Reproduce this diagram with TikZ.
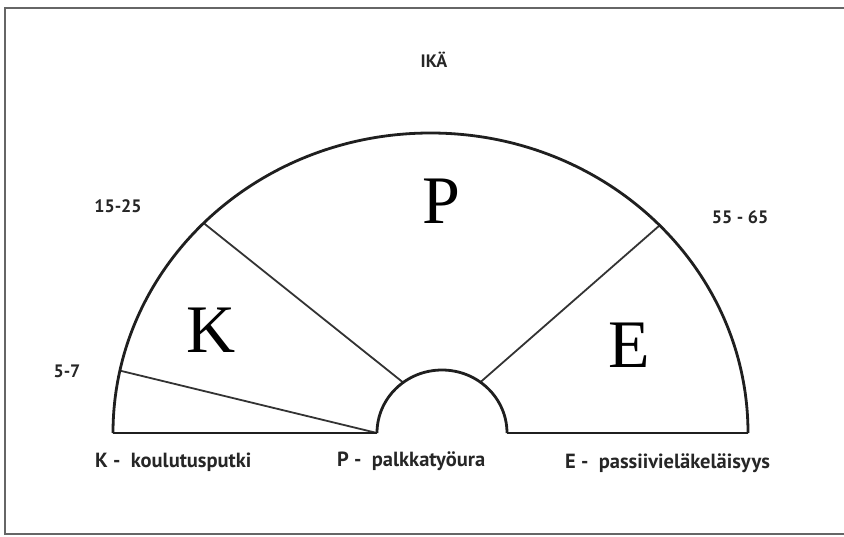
\documentclass[tikz,border=0pt]{standalone}
\usepackage{fontspec}
\usetikzlibrary{calc}
\setmainfont{Liberation Serif}
\newfontfamily\labelfont{PT Sans}
\begin{document}
\begin{tikzpicture}[x=1pt,y=-1pt,
  rim/.style={line width=2.8pt,black!88,line join=round},
  divider/.style={line width=1.8pt,black!80},
  frameline/.style={line width=1.4pt,black!60},
  letter/.style={font=\fontsize{68}{68}\selectfont,inner sep=0pt},
  agelabel/.style={font=\labelfont\bfseries\fontsize{18}{20}\selectfont,inner sep=0pt,text=black!85},
  legend/.style={font=\labelfont\bfseries\fontsize{20.5}{22}\selectfont,inner sep=0pt,anchor=west,text=black!85}]
\useasboundingbox (0,0) rectangle (844,536);

% outer frame
\draw[frameline] (846,8) -- (5,8) -- (5,534) -- (846,534);

% centres of the two half-ellipses
\coordinate (bigc) at (430.5,433);
\coordinate (smallc) at (442,433);

% points on the rims
\coordinate (bigL) at ($(bigc)+(180:317.5pt and 300pt)$);
\coordinate (bigR) at ($(bigc)+(0:317.5pt and 300pt)$);
\coordinate (smallL) at ($(smallc)+(180:65pt and 63pt)$);
\coordinate (smallR) at ($(smallc)+(0:65pt and 63pt)$);
\coordinate (kpOuter) at ($(bigc)+(135.6:317.5pt and 300pt)$);
\coordinate (peOuter) at ($(bigc)+(43.8:317.5pt and 300pt)$);
\coordinate (schoolOuter) at ($(bigc)+(168:317.5pt and 300pt)$);
\coordinate (kpInner) at ($(smallc)+(126.7:65pt and 63pt)$);
\coordinate (peInner) at ($(smallc)+(53.8:65pt and 63pt)$);

% dividers between phases
\draw[divider] (kpOuter) -- (kpInner);
\draw[divider] (peOuter) -- (peInner);
\draw[divider] (schoolOuter) -- (smallL);

% the two arcs and the base line
\draw[rim] (bigL) arc[start angle=180,end angle=0,x radius=317.5pt,y radius=300pt];
\draw[rim] (smallL) arc[start angle=180,end angle=0,x radius=65pt,y radius=63pt];
\draw[rim] (bigL) -- (smallL);
\draw[rim] (smallR) -- (bigR);

% age marks
\node[agelabel] (title) at (434,60) {IKÄ};
\node[agelabel] (a1525) at (118,206) {15-25};
\node[agelabel] (a5565) at (740,217) {55 - 65};
\node[agelabel] (a57) at (67,371) {5-7};

% phase letters
\node[letter] (K) at (211,330) {K};
\node[letter] (P) at (441,201) {P};
\node[letter] (E) at (629,345) {E};

% legend
\node[legend] (lk) at (95,462) {K -\ \ koulutusputki};
\node[legend] (lp) at (337,461) {P -\ \ palkkatyöura};
\node[legend] (le) at (565,463) {E -\ \ passiivieläkeläisyys};
\end{tikzpicture}
\end{document}
